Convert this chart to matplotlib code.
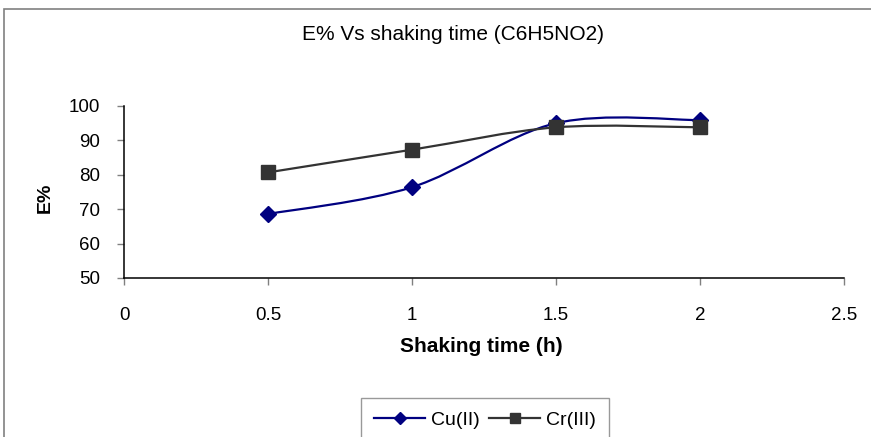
import matplotlib.pyplot as plt
from matplotlib.path import Path
from matplotlib.patches import PathPatch, Rectangle
from matplotlib.lines import Line2D
from matplotlib.ticker import FormatStrFormatter

plt.rcParams['font.family'] = ['Liberation Sans', 'DejaVu Sans']

time_h = [0.5, 1.0, 1.5, 2.0]
cu_e = [68.6, 76.4, 95.0, 95.9]
cr_e = [80.7, 87.3, 93.8, 93.8]

x_ticks = [0, 0.5, 1, 1.5, 2, 2.5]
y_ticks = [50, 60, 70, 80, 90, 100]


def smooth_path(xs, ys):
    # Catmull-Rom style bezier segments, like a spreadsheet "smoothed line"
    pts = list(zip(xs, ys))
    verts = [pts[0]]
    codes = [Path.MOVETO]
    n = len(pts)
    for i in range(n - 1):
        p0 = pts[i - 1] if i > 0 else pts[i]
        p1 = pts[i]
        p2 = pts[i + 1]
        p3 = pts[i + 2] if i + 2 < n else pts[i + 1]
        c1 = (p1[0] + (p2[0] - p0[0]) / 6, p1[1] + (p2[1] - p0[1]) / 6)
        c2 = (p2[0] - (p3[0] - p1[0]) / 6, p2[1] - (p3[1] - p1[1]) / 6)
        verts += [c1, c2, p2]
        codes += [Path.CURVE4] * 3
    return Path(verts, codes)


fig = plt.figure(figsize=(8.71, 4.37), dpi=100)
ax = fig.add_axes([124 / 871, 1 - 278 / 437, 720 / 871, 172 / 437])

series = [
    (cu_e, '#000080', 'D', 8, 'Cu(II)'),
    (cr_e, '#333333', 's', 9.5, 'Cr(III)'),
]
handles = []
for vals, col, mk, ms, name in series:
    ax.add_patch(PathPatch(smooth_path(time_h, vals), fill=False,
                           edgecolor=col, lw=1.6, zorder=2))
    ax.plot(time_h, vals, linestyle='none', marker=mk, ms=ms,
            color=col, zorder=3)
    handles.append(Line2D([], [], color=col, lw=1.6, marker=mk,
                          ms=ms * 0.75, label=name))

ax.set_xlim(0, 2.5)
ax.set_ylim(50, 100)
ax.set_xticks(x_ticks)
ax.set_yticks(y_ticks)
ax.xaxis.set_major_formatter(FormatStrFormatter('%g'))
ax.tick_params(direction='out', length=5, width=1, color='#808080',
               labelsize=13.5)
ax.tick_params(axis='x', pad=16)
ax.tick_params(axis='y', pad=12)
for s in ['top', 'right']:
    ax.spines[s].set_visible(False)
for s in ['left', 'bottom']:
    ax.spines[s].set_linewidth(1.1)

fig.text(481 / 871, 1 - 347 / 437, 'Shaking time (h)', ha='center',
         va='center', fontsize=15, fontweight='bold')
fig.text(45 / 871, 1 - 198 / 437, 'E%', ha='center', va='center',
         rotation=90, fontsize=14, fontweight='bold')

fig.text(453 / 871, 1 - 34 / 437, 'E% Vs shaking time (C6H5NO2)',
         ha='center', va='center', fontsize=15)

# outer chart frame
fig.patches.append(Rectangle((4 / 871, -0.1), 1.1, 1 - 9 / 437 + 0.1,
                             transform=fig.transFigure, fill=False,
                             edgecolor='#808080', lw=1.2))

leg = fig.legend(handles=handles, loc='center',
                 bbox_to_anchor=(485 / 871, 1 - 420 / 437), ncol=2,
                 fontsize=14, frameon=True, fancybox=False,
                 edgecolor='#808080', borderpad=0.7, handlelength=2.6,
                 columnspacing=0.5, handletextpad=0.3)
leg.get_frame().set_linewidth(1.0)

fig.savefig('out.png', dpi=100)
